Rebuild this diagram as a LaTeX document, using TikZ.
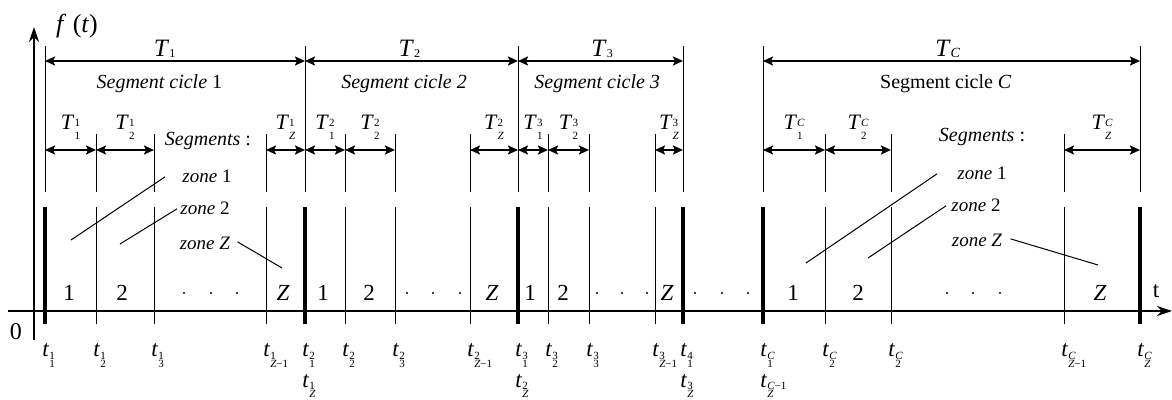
\documentclass[tikz,border=0pt]{standalone}
\usepackage{fontspec}
\setmainfont{Liberation Serif}
\usetikzlibrary{arrows.meta,positioning}

% stacked indices: T (upper index raised) and t (both lowered)
\newcommand{\Tidx}[2]{\raisebox{1.5pt}{\fontsize{5.5}{6.2}\selectfont\begin{tabular}[t]{@{}l@{}}#1\\#2\end{tabular}}}
\newcommand{\tidx}[2]{\raisebox{-1.5pt}{\fontsize{5.5}{6.2}\selectfont\begin{tabular}[t]{@{}l@{}}#1\\[-2.2pt]#2\end{tabular}}}

\begin{document}
\begin{tikzpicture}[x=0.5pt, y=-0.5pt,
    every node/.style={inner sep=0pt},
    axis/.style={line width=1pt, -{Stealth[length=7.5pt,width=5pt,inset=2.5pt]}},
    bound/.style={line width=2.2pt},
    seg/.style={line width=0.5pt},
    dim/.style={line width=1.3pt,
      {Stealth[length=5pt,width=4.5pt,inset=1pt]}-{Stealth[length=5pt,width=4.5pt,inset=1pt]}},
    lab/.style={anchor=base, font=\fontsize{10}{12}\selectfont},
    subT/.style={anchor=base, font=\fontsize{11}{13}\selectfont},
    bigT/.style={anchor=base, font=\fontsize{12.5}{14}\selectfont},
    zone/.style={anchor=base, font=\fontsize{9.5}{11}\selectfont},
    digit/.style={anchor=base, font=\fontsize{11.5}{13}\selectfont},
    tlab/.style={anchor=base west, font=\fontsize{11.5}{13}\selectfont}]

  \useasboundingbox (0,0) rectangle (1172,400);

  % axes
  \coordinate (xa) at (8,311);  \coordinate (xb) at (1172,311);
  \coordinate (ya) at (34,340); \coordinate (yb) at (34,27);
  \draw[axis] (xa) -- (xb);
  \draw[axis, line width=1.3pt] (ya) -- (yb);
  \node[digit, font=\fontsize{12}{14}\selectfont] (zero) at (16,340) {0};
  \node[digit, font=\fontsize{13}{15}\selectfont] (ft) at (77,33) {\textit{f} (\textit{t})};
  \node[digit] (tt) at (1156,298) {t};

  % cycle boundaries
  \foreach \x [count=\i] in {45,305,518,683,763,1140} {
    \draw[bound] (\x,207) -- (\x,324);
    \draw[seg] (\x,46) -- (\x,192);
    \coordinate (c\i) at (\x,61);
  }

  % segment borders
  \foreach \x in {96,154,266,345,395,470,548,589,655,825,891,1064} {
    \draw[seg] (\x,134) -- (\x,192);
    \draw[seg] (\x,207) -- (\x,324);
  }

  % cycle lengths
  \draw[dim] (c1) -- node[bigT, pos=.46, yshift=2pt] (T1) {\textit{T}\raisebox{-.5pt}{\fontsize{6}{7}\selectfont 1}}
    node[lab, pos=.44, yshift=-14pt] (S1) {\textit{Segment cicle} 1} (c2);
  \draw[dim] (c2) -- node[bigT, pos=.49, yshift=2pt] (T2) {\textit{T}\raisebox{-.5pt}{\fontsize{6}{7}\selectfont 2}}
    node[lab, pos=.465, yshift=-14pt] (S2) {\textit{Segment cicle 2}} (c3);
  \draw[dim] (c3) -- node[bigT, pos=.51, yshift=2pt] (T3) {\textit{T}\raisebox{-.5pt}{\fontsize{6}{7}\selectfont 3}}
    node[lab, pos=.48, yshift=-14pt] (S3) {\textit{Segment cicle 3}} (c4);
  \draw[dim] (c5) -- node[bigT, pos=.49, yshift=2pt] (TC) {\textit{T}\raisebox{-.5pt}{\fontsize{7}{8}\selectfont\textit{C}}}
    node[lab, pos=.485, yshift=-14pt] (SC) {Segment cicle \textit{C}} (c6);

  % segment lengths
  \foreach \a/\b/\p/\q in {45/96/1/1, 96/154/1/2, 266/305/1/{\textit{Z}},
      305/345/2/1, 345/395/2/2, 470/518/2/{\textit{Z}},
      518/548/3/1, 548/589/3/2, 655/683/3/{\textit{Z}},
      763/825/{\textit{C}}/1, 825/891/{\textit{C}}/2, 1064/1140/{\textit{C}}/{\textit{Z}}} {
    \coordinate (sa) at (\a,150);
    \coordinate (sb) at (\b,150);
    \draw[dim] (sa) -- node[subT, yshift=10pt] (Ts\a) {\textit{T}\Tidx{\p}{\q}} (sb);
  }

  % zone captions
  \node[lab] (sg1) at (208,146) {\textit{Segments} :};
  \node[zone] (z11) at (207,183) {\textit{zone} 1};
  \node[zone] (z12) at (205,215) {\textit{zone} 2};
  \node[zone] (z1Z) at (205,250) {\textit{zone Z}};
  \node[lab] (sgC) at (982,142) {\textit{Segments} :};
  \node[zone] (zC1) at (982,180) {\textit{zone} 1};
  \node[zone] (zC2) at (976,212) {\textit{zone} 2};
  \node[zone] (zCZ) at (977,247) {\textit{zone Z}};

  \coordinate (p11) at (71,240);   \coordinate (p12) at (120,244);  \coordinate (p1Z) at (282,268);
  \coordinate (pC1) at (806,263);  \coordinate (pC2) at (868,258);  \coordinate (pCZ) at (1098,265);
  \draw[seg] ([xshift=-8.5pt]z11.west) -- (p11);
  \draw[seg] ([xshift=-1.5pt]z12.west) -- (p12);
  \draw[seg] ([xshift=3.5pt,yshift=1pt]z1Z.east) -- (p1Z);
  \draw[seg] ([xshift=-10pt]zC1.west) -- (pC1);
  \draw[seg] ([xshift=-2.5pt]zC2.west) -- (pC2);
  \draw[seg] ([xshift=4pt,yshift=1pt]zCZ.east) -- (pCZ);

  % segment numbers
  \foreach \x/\s in {69/1, 122/2, 283/{\textit{Z}}, 323/1, 369/2, 492/{\textit{Z}},
      530/1, 563/2, 667/{\textit{Z}}, 793/1, 858/2, 1100/{\textit{Z}}}
    \node[digit] (n\x) at (\x,301) {\s};
  \foreach \x in {184,211,237,407,433,460,597,622,647,695,722,748,947,973,1000}
    \fill (\x,293) circle (1.1);

  % time instants
  \foreach \x/\p/\q in {45/1/1, 96/1/2, 154/1/3, 266/1/{\textit{Z}−1},
      305/2/1, 345/2/2, 395/2/3, 470/2/{\textit{Z}−1},
      518/3/1, 548/3/2, 589/3/3, 655/3/{\textit{Z}−1}, 683/4/1,
      763/{\textit{C}}/1, 825/{\textit{C}}/2, 891/{\textit{C}}/2,
      1064/{\textit{C}}/{\textit{Z}−1}, 1140/{\textit{C}}/{\textit{Z}}}
    \node[tlab] (ta\x) at ({\x-3},357) {\textit{t}\tidx{\p}{\q}};
  \foreach \x/\p in {305/1, 518/2, 683/3, 763/{\textit{C}−1}}
    \node[tlab] (tb\x) at ({\x-3},387) {\textit{t}\tidx{\p}{\textit{Z}}};
\end{tikzpicture}
\end{document}
